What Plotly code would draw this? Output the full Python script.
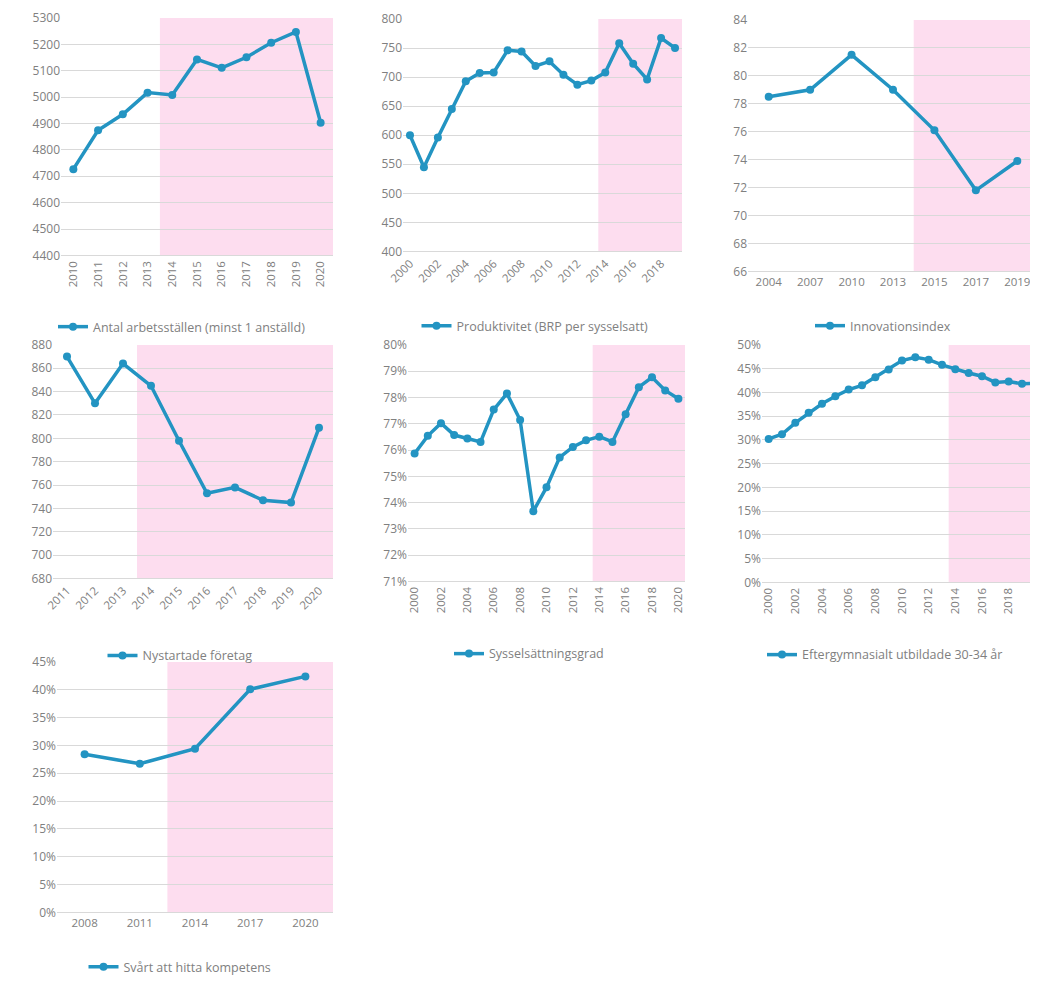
import plotly.graph_objects as go

# page offset (browser body margin) and resulting figure size
OFF = 8
W, H = 1038 - OFF, 982 - OFF

# ---------------- data ----------------
arb_years = [str(y) for y in range(2010, 2021)]
arb_values = [4727, 4874, 4935, 5017, 5008, 5143, 5111, 5151, 5206, 5247, 4903]

prod_years = [str(y) for y in range(2000, 2020)]
prod_values = [600, 545, 596, 645, 693, 707, 708, 746, 744, 719, 727, 704, 687, 694, 708, 758, 723, 696, 767, 750]

inno_years = ["2004", "2007", "2010", "2013", "2015", "2017", "2019"]
inno_values = [78.5, 79.0, 81.5, 79.0, 76.1, 71.8, 73.9]

nyst_years = [str(y) for y in range(2011, 2021)]
nyst_values = [870, 830, 864, 845, 798, 753, 758, 747, 745, 809]

syss_years = [str(y) for y in range(2000, 2021)]
syss_values = [0.7587, 0.7654, 0.7702, 0.7657, 0.7644, 0.7631, 0.7754, 0.7815, 0.7714, 0.7367,
               0.7458, 0.7572, 0.7612, 0.7637, 0.7651, 0.7631, 0.7736, 0.7839, 0.7877, 0.7827, 0.7795]

efter_years = [str(y) for y in range(2000, 2021)]
efter_values = [0.302, 0.312, 0.336, 0.357, 0.376, 0.392, 0.406, 0.415, 0.432, 0.448,
                0.467, 0.474, 0.469, 0.458, 0.449, 0.441, 0.434, 0.421, 0.423, 0.418, 0.419]

komp_years = ["2008", "2011", "2014", "2017", "2020"]
komp_values = [0.284, 0.267, 0.294, 0.401, 0.424]

names = ["Antal arbetsställen (minst 1 anställd)", "Produktivitet (BRP per sysselsatt)",
         "Innovationsindex", "Nystartade företag", "Sysselsättningsgrad",
         "Eftergymnasialt utbildade 30-34 år", "Svårt att hitta kompetens"]

shade_start = ["2014", "2014", "2015", "2014", "2014", "2014", "2014"]

# ---------------- styling ----------------
LINE = "#2394C2"
PINK = "#FDDDEF"
GRID = "#D9D9D9"
TXT = "#808080"
FONT = "'Open Sans', Lato, sans-serif"

# panel geometry in screen pixels: (x0, x1, ytop, ybottom, legend_cx, legend_cy)
panels = [
    (61, 333, 18, 257, 182, 329),
    (403, 682, 19, 253, 535, 328),
    (748, 1038, 20, 273, 883, 328),
    (53, 333, 347, 582, 180, 660),
    (408, 685, 347, 585, 529, 658),
    (762, 1038, 347, 586, 885, 659),
    (57, 333, 666, 918, 180, 973),
]

series = [
    (arb_years, arb_values, [4400, 5300], 100, None, -90, None),
    (prod_years, prod_values, [400, 800], 50, None, -45, prod_years[::2]),
    (inno_years, inno_values, [66, 84], 2, None, 0, None),
    (nyst_years, nyst_values, [680, 880], 20, None, -45, None),
    (syss_years, syss_values, [0.71, 0.80], 0.01, ".0%", -90, syss_years[::2]),
    (efter_years, efter_values, [0, 0.50], 0.05, ".0%", -90, efter_years[::2]),
    (komp_years, komp_values, [0, 0.45], 0.05, ".0%", 0, None),
]

# right-side trim (in category units) for panels that run past the image edge
xpad = [0, 0, 0, 0, 0, 0.3, 0]


def px_x(p):
    return (p - OFF) / W


def px_y(p):
    return 1 - (p - OFF) / H


fig = go.Figure()
shapes = []
layout = {}

for i, (geo, ser, name, start) in enumerate(zip(panels, series, names, shade_start)):
    x0, x1, yt, yb, lcx, lcy = geo
    cats, vals, yr, dt, fmt, ang, tv = ser
    n = i + 1
    xa = "x" if n == 1 else f"x{n}"
    ya = "y" if n == 1 else f"y{n}"
    lg = "legend" if n == 1 else f"legend{n}"
    fig.add_trace(go.Scatter(
        x=cats, y=vals, mode="lines+markers", name=name,
        line=dict(color=LINE, width=3.5), marker=dict(color=LINE, size=8),
        xaxis=xa, yaxis=ya, legend=lg, showlegend=True,
    ))
    xkey = "xaxis" if n == 1 else f"xaxis{n}"
    ykey = "yaxis" if n == 1 else f"yaxis{n}"
    layout[xkey] = dict(
        domain=[px_x(x0), min(px_x(x1), 1.0)], anchor=ya, type="category",
        categoryorder="array", categoryarray=cats,
        range=[-0.5, len(cats) - 0.5 - xpad[i]],
        showgrid=False, zeroline=False, showline=True, linecolor=GRID, linewidth=1,
        tickangle=ang, tickfont=dict(size=11.5, color=TXT, family=FONT),
        ticks="", fixedrange=True, automargin=False,
        **({"tickmode": "array", "tickvals": tv} if tv is not None else {}),
    )
    layout[ykey] = dict(
        domain=[px_y(yb), px_y(yt)], anchor=xa, range=yr, dtick=dt,
        tick0=yr[0], showgrid=True, gridcolor=GRID, gridwidth=1,
        zeroline=False, showline=False, ticks="", automargin=False,
        tickfont=dict(size=12, color=TXT, family=FONT),
        **({"tickformat": fmt} if fmt else {}),
    )
    layout[lg] = dict(
        x=px_x(lcx), y=px_y(lcy), xanchor="center", yanchor="middle",
        xref="paper", yref="paper", orientation="h",
        font=dict(size=12.5, color=TXT, family=FONT), bgcolor="rgba(0,0,0,0)",
        itemwidth=30,
    )
    si = cats.index(start)
    shapes.append(dict(
        type="rect", xref=xa, yref=ya, x0=si - 0.5, x1=len(cats) - 0.5,
        y0=yr[0], y1=yr[1], fillcolor=PINK, line=dict(width=0), layer="below",
    ))

fig.update_layout(
    width=W, height=H, margin=dict(l=0, r=0, t=0, b=0, pad=0),
    paper_bgcolor="white", plot_bgcolor="white",
    shapes=shapes, font=dict(family=FONT, color=TXT),
    **layout,
)

fig.write_html("out.html")
